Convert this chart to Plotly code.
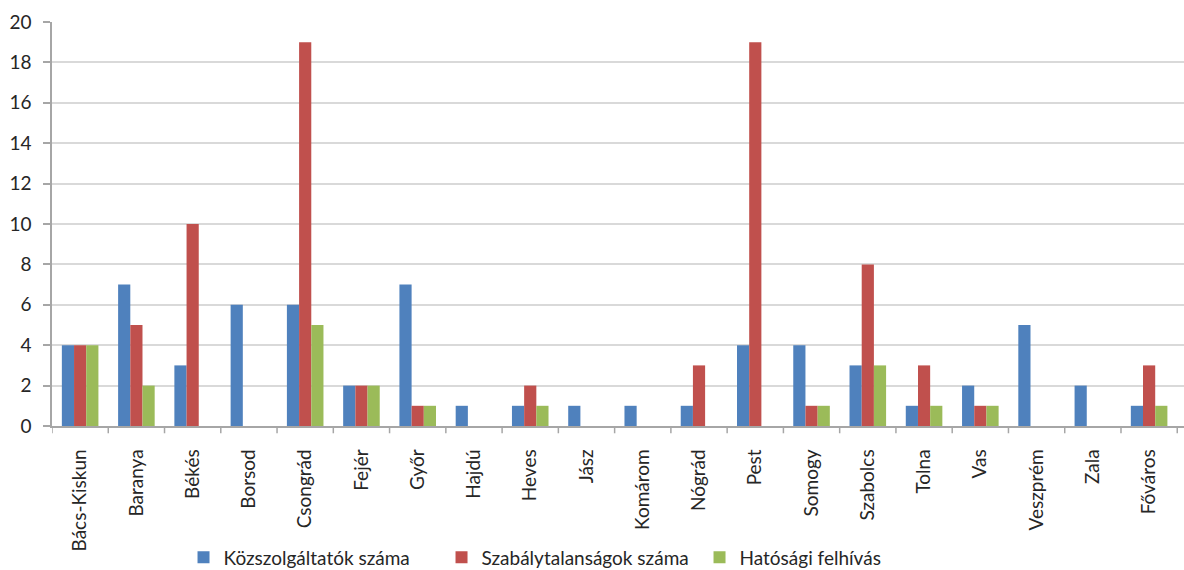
import plotly.graph_objects as go

categories = ["Bács-Kiskun", "Baranya", "Békés", "Borsod", "Csongrád", "Fejér", "Győr",
              "Hajdú", "Heves", "Jász", "Komárom", "Nógrád", "Pest", "Somogy",
              "Szabolcs", "Tolna", "Vas", "Veszprém", "Zala", "Főváros"]
kozszolgaltatok = [4, 7, 3, 6, 6, 2, 7, 1, 1, 1, 1, 1, 4, 4, 3, 1, 2, 5, 2, 1]
szabalytalansagok = [4, 5, 10, 0, 19, 2, 1, 0, 2, 0, 0, 3, 19, 1, 8, 3, 1, 0, 0, 3]
hatosagi = [4, 2, 0, 0, 5, 2, 1, 0, 1, 0, 0, 0, 0, 1, 3, 1, 1, 0, 0, 1]
series_names = ["Közszolgáltatók száma", "Szabálytalanságok száma", "Hatósági felhívás"]
colors = ["#4F81BD", "#C0504D", "#9BBB59"]
y_ticks = list(range(0, 21, 2))

font_family = "Lato"
text_color = "#262626"
fig = go.Figure()
for name, vals, col in zip(series_names, [kozszolgaltatok, szabalytalansagok, hatosagi], colors):
    fig.add_trace(go.Bar(x=list(range(len(categories))), y=vals, name=name,
                         marker=dict(color=col, line=dict(width=0))))

fig.update_layout(
    width=1184, height=570,
    margin=dict(l=52, r=0, t=22, b=144, pad=0),
    plot_bgcolor="white", paper_bgcolor="white",
    barmode="group", bargap=0.35, bargroupgap=0,
    font=dict(family=font_family, size=18, color=text_color),
    showlegend=True,
    legend=dict(orientation="h", xref="container", yref="container",
                x=0.155, y=0.022, xanchor="left", yanchor="middle",
                font=dict(size=19, color=text_color), traceorder="normal",
                itemwidth=30, entrywidth=213, entrywidthmode="pixels",
                tracegroupgap=0),
    xaxis=dict(
        range=[-0.5, 19.62], automargin=False,
        tickmode="array", tickvals=list(range(len(categories))), ticktext=categories,
        tickangle=-90, showgrid=False, showline=True, linecolor="#A6A6A6", linewidth=1.5,
        ticks="", zeroline=False, tickfont=dict(size=19, color=text_color),
        ticklabelstandoff=14,
    ),
    yaxis=dict(
        range=[0, 20], tickmode="array", tickvals=y_ticks, automargin=False,
        showgrid=True, gridcolor="#D9D9D9", gridwidth=1.5,
        showline=True, linecolor="#A6A6A6", linewidth=1.5,
        ticks="outside", ticklen=7, tickcolor="#A6A6A6", tickwidth=1.5,
        zeroline=False, tickfont=dict(size=19, color=text_color),
        ticklabelstandoff=8,
    ),
)

# category separator ticks on the x axis
for i in range(len(categories) + 1):
    fig.add_shape(type="line", xref="x", yref="paper", x0=i - 0.5, x1=i - 0.5,
                  y0=0, y1=-0.018, line=dict(color="#A6A6A6", width=1.5))

fig.write_html("out.html")
